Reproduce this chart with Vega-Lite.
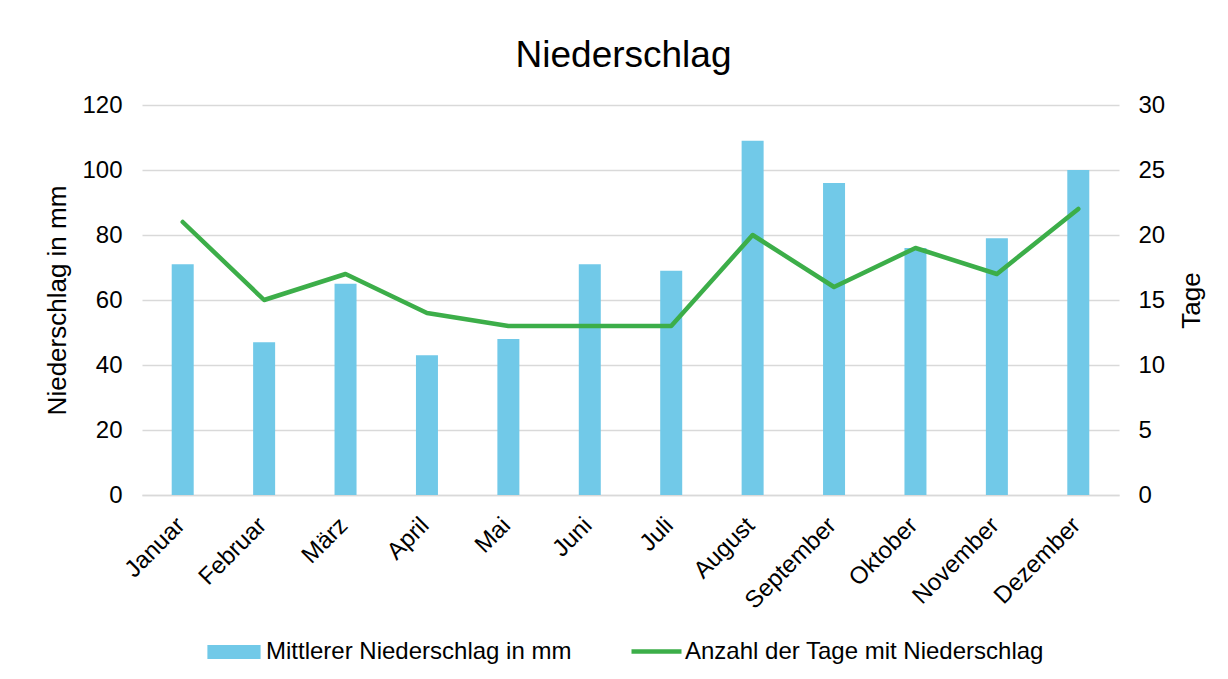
{
  "$schema": "https://vega.github.io/schema/vega-lite/v6.json",
  "autosize": "none",
  "width": 977,
  "height": 390,
  "padding": {"left": 142, "top": 105, "right": 109, "bottom": 184},
  "background": "white",
  "config": {
    "font": "Liberation Sans",
    "view": {"stroke": null},
    "axis": {"labelFont": "Liberation Sans", "titleFont": "Liberation Sans", "labelColor": "#000000", "titleColor": "#000000", "titleFontWeight": "normal"}
  },
  "title": {"text": "Niederschlag", "fontSize": 37, "font": "Liberation Sans", "fontWeight": "normal", "color": "#000000", "anchor": "middle", "offset": 18, "dx": -7},
  "data": {
    "values": [
      {"monat": "Januar", "mm": 71, "tage": 21},
      {"monat": "Februar", "mm": 47, "tage": 15},
      {"monat": "März", "mm": 65, "tage": 17},
      {"monat": "April", "mm": 43, "tage": 14},
      {"monat": "Mai", "mm": 48, "tage": 13},
      {"monat": "Juni", "mm": 71, "tage": 13},
      {"monat": "Juli", "mm": 69, "tage": 13},
      {"monat": "August", "mm": 109, "tage": 20},
      {"monat": "September", "mm": 96, "tage": 16},
      {"monat": "Oktober", "mm": 76, "tage": 19},
      {"monat": "November", "mm": 79, "tage": 17},
      {"monat": "Dezember", "mm": 100, "tage": 22}
    ]
  },
  "encoding": {
    "x": {
      "field": "monat", "type": "nominal", "sort": null,
      "scale": {"paddingInner": 0, "paddingOuter": 0},
      "axis": {"title": null, "labelAngle": -45, "labelFontSize": 24, "ticks": false, "domain": true, "domainColor": "#D9D9D9", "domainWidth": 1.5, "labelPadding": 18, "labelOffset": -10, "labelLimit": 300}
    }
  },
  "layer": [
    {
      "mark": {"type": "bar", "size": 22},
      "encoding": {
        "y": {
          "field": "mm", "type": "quantitative",
          "scale": {"domain": [0, 120]},
          "axis": {"title": "Niederschlag in mm", "titleFontSize": 26, "labelFontSize": 24, "values": [0, 20, 40, 60, 80, 100, 120], "ticks": false, "domain": false, "gridColor": "#D9D9D9", "gridWidth": 1.5, "labelPadding": 20, "titlePadding": 11}
        },
        "fill": {
          "datum": "Mittlerer Niederschlag in mm", "type": "nominal",
          "scale": {"range": ["#71C9E8"]},
          "legend": {"title": null, "orient": "none", "legendX": 78, "legendY": 533, "labelFontSize": 24, "labelFont": "Liberation Sans", "labelColor": "#000000", "labelLimit": 600, "symbolType": "M-1.9,-0.5H1.9V0.5H-1.9Z", "symbolSize": 784, "symbolStrokeWidth": 0, "labelOffset": 18}
        }
      }
    },
    {
      "mark": {"type": "line", "strokeWidth": 4.5, "strokeJoin": "round", "strokeCap": "round"},
      "encoding": {
        "y": {
          "field": "tage", "type": "quantitative",
          "scale": {"domain": [0, 30]},
          "axis": {"title": "Tage", "orient": "right", "titleAngle": -90, "titleBaseline": "top", "titleFontSize": 26, "labelFontSize": 24, "values": [0, 5, 10, 15, 20, 25, 30], "ticks": false, "domain": false, "grid": false, "labelPadding": 19, "titlePadding": 14}
        },
        "stroke": {
          "datum": "Anzahl der Tage mit Niederschlag", "type": "nominal",
          "scale": {"range": ["#3CAE49"]},
          "legend": {"title": null, "orient": "none", "legendX": 487, "legendY": 519, "labelFontSize": 24, "labelFont": "Liberation Sans", "labelColor": "#000000", "labelLimit": 600, "symbolType": "stroke", "symbolSize": 2500, "symbolStrokeWidth": 4.5, "labelOffset": 1}
        }
      }
    }
  ],
  "resolve": {"scale": {"y": "independent"}}
}
